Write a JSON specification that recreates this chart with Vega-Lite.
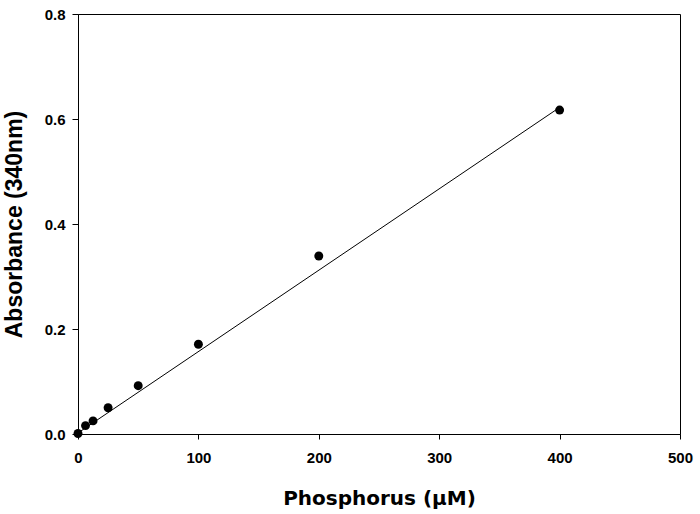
{
  "$schema": "https://vega.github.io/schema/vega-lite/v6.json",
  "width": 602,
  "height": 420,
  "autosize": "none",
  "padding": {"left": 78, "top": 14, "right": 20, "bottom": 80},
  "background": "white",
  "config": {
    "view": {"stroke": "black", "strokeWidth": 1},
    "font": "Liberation Sans",
    "axis": {
      "grid": false,
      "domainColor": "black",
      "tickColor": "black",
      "labelFont": "Liberation Sans",
      "labelFontSize": 15,
      "labelFontWeight": "bold",
      "labelColor": "black",
      "labelFlush": false,
      "labelOverlap": false,
      "titleFontWeight": "bold",
      "titleColor": "black"
    }
  },
  "layer": [
    {
      "data": {"values": [
        {"p": 0, "a": 0.002},
        {"p": 400, "a": 0.622}
      ]},
      "mark": {"type": "line", "color": "black", "strokeWidth": 1},
      "encoding": {
        "x": {"field": "p", "type": "quantitative"},
        "y": {"field": "a", "type": "quantitative"}
      }
    },
    {
      "data": {"values": [
        {"p": 0, "a": 0.001},
        {"p": 6.25, "a": 0.016},
        {"p": 12.5, "a": 0.025},
        {"p": 25, "a": 0.050},
        {"p": 50, "a": 0.092},
        {"p": 100, "a": 0.171},
        {"p": 200, "a": 0.339},
        {"p": 400, "a": 0.617}
      ]},
      "mark": {"type": "point", "filled": true, "color": "black", "opacity": 1, "size": 80},
      "encoding": {
        "x": {
          "field": "p", "type": "quantitative",
          "scale": {"domain": [0, 500], "nice": false},
          "axis": {"values": [0, 100, 200, 300, 400, 500], "title": "Phosphorus (μM)", "tickSize": 5, "labelPadding": 11, "titlePadding": 23, "titleFont": "DejaVu Sans", "titleFontSize": 20}
        },
        "y": {
          "field": "a", "type": "quantitative",
          "scale": {"domain": [0, 0.8], "nice": false},
          "axis": {"values": [0, 0.2, 0.4, 0.6, 0.8], "format": ".1f", "title": "Absorbance (340nm)", "tickSize": 6, "labelPadding": 7, "titlePadding": 18, "titleFont": "Liberation Sans", "titleFontSize": 23}
        }
      }
    }
  ]
}
